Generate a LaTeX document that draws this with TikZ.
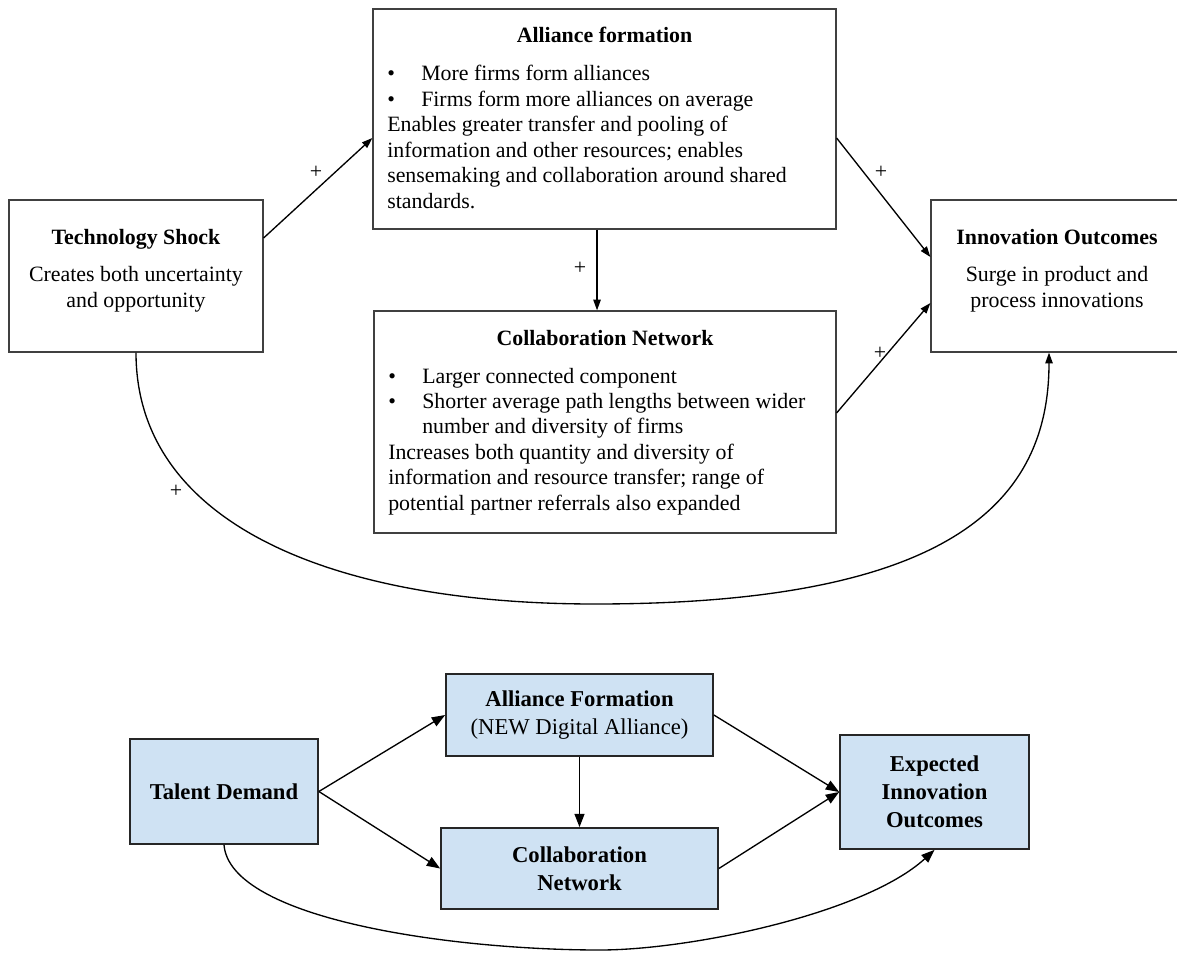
\documentclass[tikz,border=0pt]{standalone}
\usepackage{fontspec}
\setmainfont{Liberation Serif}
\usetikzlibrary{arrows.meta}
\definecolor{paleblue}{HTML}{CFE2F3}
\definecolor{edgegray}{HTML}{404040}
\newcommand{\blt}{\makebox[25.5pt][l]{\textbullet}}
\newcommand{\bindent}{\hspace*{25.5pt}}
\tikzstyle{block}=[draw=edgegray, line width=0.9pt, inner sep=0pt]
\tikzstyle{wblock}=[block, fill=white]
\tikzstyle{bblock}=[block, draw=black!85, line width=1.3pt, fill=paleblue, align=center, font=\fontsize{17}{21}\selectfont]
\tikzstyle{txt}=[inner sep=0pt, font=\fontsize{16.4}{19.1}\selectfont]
\tikzstyle{plus}=[txt]
\tikzstyle{link}=[-{Triangle[length=8pt,width=5.5pt]}, line width=1pt]
\tikzstyle{blink}=[-{Triangle[length=10pt,width=7.5pt]}, line width=1pt]

\begin{document}
\begin{tikzpicture}[x=0.75pt, y=-0.75pt]
        \useasboundingbox (0,0) rectangle (1177,955);
        \node[wblock, minimum width=190.5pt, minimum height=114pt]   (tech) at (136,276) {};
        \node[wblock, minimum width=347.25pt, minimum height=165pt]  (af) at (604.5,119) {};
        \node[wblock, minimum width=346.5pt, minimum height=166.5pt] (cn) at (605,422) {};
        \node[wblock, minimum width=189pt, minimum height=114pt]     (io) at (1057,276) {};

        \node[txt, anchor=base] (techtxt) at (136,245) {\parbox[t]{180pt}{\centering\textbf{Technology Shock}\\[8.6pt]Creates both uncertainty\\and opportunity}};
        \node[txt, anchor=base] (aftitle) at (604.5,43) {\textbf{Alliance formation}};
        \node[txt, anchor=base west] (afbody) at (387,81) {\parbox[t]{330pt}{\blt More firms form alliances\\
            \blt Firms form more alliances on average\\
            Enables greater transfer and pooling of\\
            information and other resources; enables\\
            sensemaking and collaboration around shared\\
            standards.}};
        \node[txt, anchor=base] (cntitle) at (605,345) {\textbf{Collaboration Network}};
        \node[txt, anchor=base west] (cnbody) at (388,383) {\parbox[t]{330pt}{\blt Larger connected component\\
            \blt Shorter average path lengths between wider\\
            \bindent number and diversity of firms\\
            Increases both quantity and diversity of\\
            information and resource transfer; range of\\
            potential partner referrals also expanded}};
        \node[txt, anchor=base] (iotxt) at (1057,245) {\parbox[t]{180pt}{\centering\textbf{Innovation Outcomes}\\[8.6pt]Surge in product and\\process innovations}};

        \draw[link] ([yshift=28.5pt]tech.east) -- ([yshift=-14.25pt]af.west);
        \draw[link] ([yshift=-14.25pt]af.east) -- ([yshift=14.25pt]io.west);
        \draw[link] ([xshift=-5.6pt]af.south) -- ([xshift=-5.6pt]af.south |- cn.north);
        \draw[link] ([yshift=6.75pt]cn.east) -- ([yshift=-20.25pt]io.west);
        \coordinate (bend) at (595,604);
        \draw[link] (tech.south) .. controls +(0,170) and +(-265,0) .. (bend) .. controls +(355,0) and +(0,150) .. ([xshift=-6pt]io.south);

        \node[plus] (p1) at (316,172) {+};
        \node[plus] (p2) at (881,172) {+};
        \node[plus] (p3) at (580,268) {+};
        \node[plus] (p4) at (880,353) {+};
        \node[plus] (p5) at (176,491) {+};

        \node[bblock, minimum width=141pt, minimum height=78.75pt]   (td) at (224,791.5) {\textbf{Talent Demand}};
        \node[bblock, minimum width=200.25pt, minimum height=61.5pt] (af2) at (579.5,715) {\textbf{Alliance Formation}\\(NEW Digital Alliance)};
        \node[bblock, minimum width=207.75pt, minimum height=60.75pt] (cn2) at (579.5,868.5) {\textbf{Collaboration}\\\textbf{Network}};
        \node[bblock, minimum width=141.75pt, minimum height=85.5pt] (eio) at (934.5,792) {\textbf{Expected}\\\textbf{Innovation}\\\textbf{Outcomes}};

        \draw[blink] (td.east) -- (af2.west);
        \draw[blink] (td.east) -- (cn2.west);
        \draw[blink] (af2.south) -- (cn2.north);
        \draw[blink] (af2.east) -- (eio.west);
        \draw[blink] (cn2.east) -- (eio.west);
        \coordinate (dip) at (600,950);
        \draw[blink] (td.south) .. controls +(6,74) and +(-150,0) .. (dip) .. controls +(90,0) and +(-70,64) .. (eio.south);
    \end{tikzpicture}
\end{document}
